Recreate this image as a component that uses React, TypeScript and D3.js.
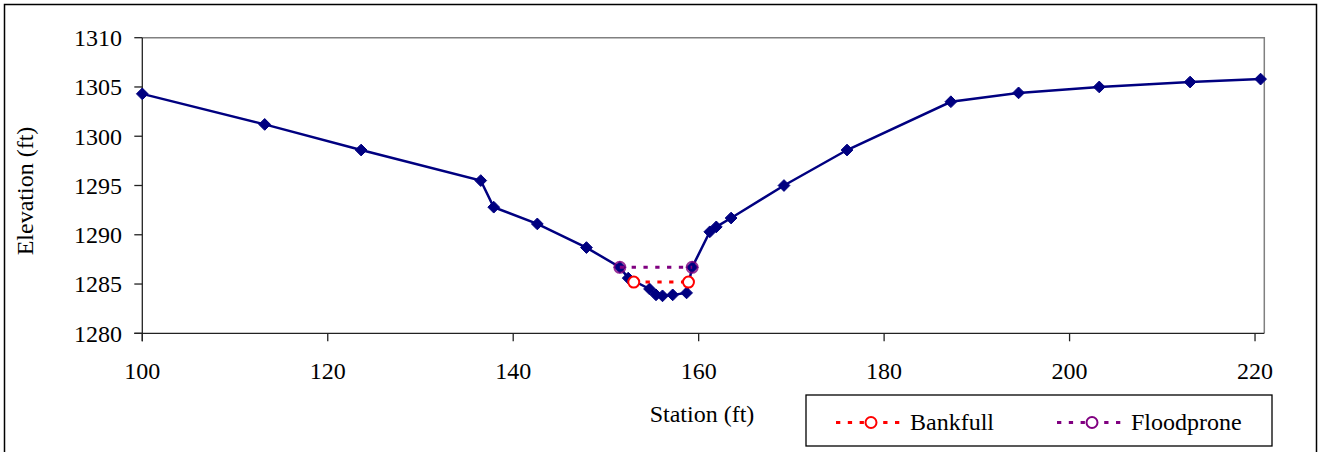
import React from "react";
import * as d3 from "d3";

const station = [100, 113.2, 123.6, 136.5, 137.9, 142.6, 147.9, 151.5, 152.4, 154.7, 155.4, 156.1, 157.2, 158.7, 159.3, 161.2, 161.9, 163.5, 169.2, 176.0, 187.2, 194.5, 203.2, 213.0, 220.6];
const elevation = [1304.3, 1301.2, 1298.6, 1295.5, 1292.8, 1291.1, 1288.7, 1286.7, 1285.6, 1284.5, 1283.9, 1283.8, 1283.9, 1284.1, 1286.7, 1290.3, 1290.8, 1291.7, 1295.0, 1298.6, 1303.5, 1304.4, 1305.0, 1305.5, 1305.8];
const bankfullStation = [153.0, 158.9];
const bankfullElevation = [1285.2, 1285.2];
const floodproneStation = [151.5, 159.3];
const floodproneElevation = [1286.7, 1286.7];
const xTicks = [100, 120, 140, 160, 180, 200, 220];
const yTicks = [1280, 1285, 1290, 1295, 1300, 1305, 1310];

const W = 1319;
const H = 452;
const FONT = "'Liberation Serif', 'Times New Roman', serif";
const NAVY = "#000080";
const RED = "#FF0000";
const PURPLE = "#800080";

export default function App() {
  const left = 142.3, right = 1264.3, top = 37.7, bottom = 333.3;
  const x = d3.scaleLinear().domain([100, 221]).range([left, right]);
  const y = d3.scaleLinear().domain([1280, 1310]).range([bottom, top]);

  const main = station.map((s, i) => [s, elevation[i]] as [number, number]);
  const bank = bankfullStation.map((s, i) => [s, bankfullElevation[i]] as [number, number]);
  const flood = floodproneStation.map((s, i) => [s, floodproneElevation[i]] as [number, number]);
  const line = d3.line<[number, number]>().x((d) => x(d[0])).y((d) => y(d[1]));
  const diamond = d3.symbol().type(d3.symbolDiamond2).size(88)();

  const dash = "4.3 7.5";

  return (
    <svg width={W} height={H} style={{ position: "absolute", left: 0, top: 0, background: "#fff" }} fontFamily={FONT}>
      <rect x={0} y={0} width={W} height={H} fill="#fff" />
      {/* outer chart border */}
      <path d={`M4.5,${H + 2} V4.5 H1316.5 V${H + 2}`} fill="none" stroke="#000" strokeWidth={1.5} />
      {/* plot area border */}
      <path d={`M${left},${top} H${right} V${bottom}`} fill="none" stroke="#808080" strokeWidth={1.5} />
      {/* axes */}
      <line x1={left} x2={left} y1={top} y2={bottom + 8} stroke="#222" strokeWidth={1.3} />
      <line x1={left - 8} x2={right} y1={bottom} y2={bottom} stroke="#222" strokeWidth={1.3} />
      {yTicks.map((t) => (
        <g key={"y" + t}>
          <line x1={left - 8} x2={left} y1={y(t)} y2={y(t)} stroke="#222" strokeWidth={1.3} />
          <text x={122} y={y(t)} dy="0.35em" textAnchor="end" fontSize={24} fill="#000">{t}</text>
        </g>
      ))}
      {xTicks.map((t) => (
        <g key={"x" + t}>
          <line x1={x(t)} x2={x(t)} y1={bottom} y2={bottom + 8} stroke="#222" strokeWidth={1.3} />
          <text x={x(t)} y={379} textAnchor="middle" fontSize={24} fill="#000">{t}</text>
        </g>
      ))}
      <text x={702} y={421.5} textAnchor="middle" fontSize={24} fill="#000">Station (ft)</text>
      <text transform="translate(33,191) rotate(-90)" textAnchor="middle" fontSize={24} fill="#000">Elevation (ft)</text>

      {/* main cross-section */}
      <path d={line(main) || ""} fill="none" stroke={NAVY} strokeWidth={2.5} />
      {main.map((d, i) => (
        <path key={"m" + i} d={diamond || ""} transform={`translate(${x(d[0])},${y(d[1])})`} fill={NAVY} stroke={NAVY} strokeWidth={1} />
      ))}

      {/* bankfull */}
      <path d={line(bank) || ""} fill="none" stroke={RED} strokeWidth={3} strokeDasharray={dash} />
      {bank.map((d, i) => (
        <circle key={"b" + i} cx={x(d[0])} cy={y(d[1])} r={5.5} fill="#fff" stroke={RED} strokeWidth={2} />
      ))}
      {/* floodprone */}
      <path d={line(flood) || ""} fill="none" stroke={PURPLE} strokeWidth={3} strokeDasharray={dash} />
      {flood.map((d, i) => (
        <circle key={"f" + i} cx={x(d[0])} cy={y(d[1])} r={5.5} fill="none" stroke={PURPLE} strokeWidth={2} strokeOpacity={0.8} />
      ))}

      {/* legend */}
      <rect x={806} y={395} width={466} height={51} fill="#fff" stroke="#000" strokeWidth={1.3} />
      <line x1={836} x2={906} y1={422.5} y2={422.5} stroke={RED} strokeWidth={3} strokeDasharray={dash} />
      <circle cx={871} cy={422.5} r={5.5} fill="#fff" stroke={RED} strokeWidth={2} />
      <text x={910} y={430} fontSize={24} fill="#000">Bankfull</text>
      <line x1={1057} x2={1127} y1={422.5} y2={422.5} stroke={PURPLE} strokeWidth={3} strokeDasharray={dash} />
      <circle cx={1092} cy={422.5} r={5.5} fill="#fff" stroke={PURPLE} strokeWidth={2} />
      <text x={1131} y={430} fontSize={24} fill="#000">Floodprone</text>
    </svg>
  );
}
